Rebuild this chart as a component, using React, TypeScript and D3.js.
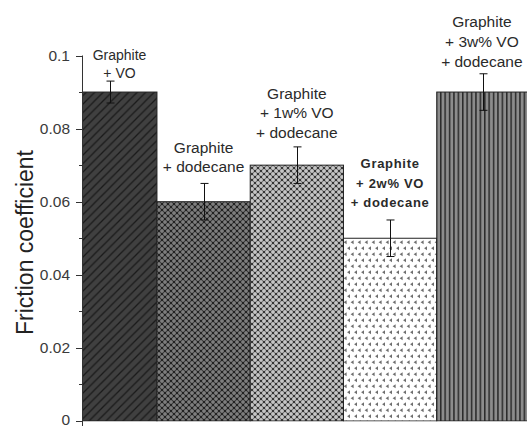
import React from "react";
import * as d3 from "d3";

const categories = ["G+VO", "G+dodecane", "G+1VO+dodecane", "G+2VO+dodecane", "G+3VO+dodecane"];
const values = [0.09, 0.06, 0.07, 0.05, 0.09];
const errors = [0.003, 0.005, 0.005, 0.005, 0.005];
const labelLines = [
  ["Graphite", "+ VO"],
  ["Graphite", "+ dodecane"],
  ["Graphite", "+ 1w% VO", "+ dodecane"],
  ["Graphite", "+ 2w% VO", "+ dodecane"],
  ["Graphite", "+ 3w% VO", "+ dodecane"],
];
const majorTicks = [0, 0.02, 0.04, 0.06, 0.08, 0.1];
const minorTicks = [0.01, 0.03, 0.05, 0.07, 0.09];
const tickLabels = ["0", "0.02", "0.04", "0.06", "0.08", "0.1"];
const yTitle = "Friction coefficient";

// layout / style
const W = 527, H = 427;
const plotLeft = 82, plotBottom = 421;
const patterns = ["pDiag", "pHatchDark", "pHatchLight", "pDots", "pVert"];
const labelGap = [8, 17, 15, 17.5, 12.5];
const labelLH = [18.5, 19.5, 19.5, 19.5, 20];
const labelSize = [14, 15.5, 15.5, 13, 15.5];
const labelBold = [false, false, false, true, false];

export default function App() {
  const y = d3.scaleLinear().domain([0, 0.1]).range([plotBottom, 55.5]);
  const x = d3.scaleBand().domain(categories).range([63.7, 530]).padding(0);
  const bw = x.bandwidth();
  const font = "'Liberation Sans', Arial, sans-serif";

  const dots = (
    <>
      <rect x={-0.8} y={-0.8} width={1.6} height={1.6} fill="#111" />
      <rect x={5.2} y={-0.8} width={1.6} height={1.6} fill="#111" />
      <rect x={-0.8} y={5.2} width={1.6} height={1.6} fill="#111" />
      <rect x={5.2} y={5.2} width={1.6} height={1.6} fill="#111" />
      <rect x={2.2} y={2.2} width={1.6} height={1.6} fill="#111" />
    </>
  );

  return (
    <svg width={W} height={H} style={{ position: "fixed", left: 0, top: 0, background: "#fff" }} fontFamily={font}>
      <defs>
        <clipPath id="plotClip">
          <rect x={plotLeft} y={0} width={W - plotLeft} height={plotBottom + 0.5} />
        </clipPath>
        <pattern id="pDiag" patternUnits="userSpaceOnUse" width={8.5} height={8.5}>
          <rect width={8.5} height={8.5} fill="#404040" />
          <path d="M-2,2 L2,-2 M0,8.5 L8.5,0 M6.5,10.5 L10.5,6.5" stroke="#1a1a1a" strokeWidth={1.3} />
        </pattern>
        <pattern id="pHatchDark" patternUnits="userSpaceOnUse" width={6} height={6}>
          <rect width={6} height={6} fill="#7e7e7e" />
          <path d="M0,0 L6,6 M6,0 L0,6" stroke="#3c3c3c" strokeWidth={1.2} />
          {dots}
        </pattern>
        <pattern id="pHatchLight" patternUnits="userSpaceOnUse" width={6} height={6}>
          <rect width={6} height={6} fill="#c6c6c6" />
          <path d="M0,0 L6,6 M6,0 L0,6" stroke="#747474" strokeWidth={1.2} />
          {dots}
        </pattern>
        <pattern id="pDots" patternUnits="userSpaceOnUse" width={7} height={12}>
          <rect width={7} height={12} fill="#fff" />
          <path d="M0.6,2.2 L3.6,0.2 L3.6,4.2 Z" fill="#6e6e6e" />
          <path d="M4.1,8.2 L7.1,6.2 L7.1,10.2 Z" fill="#6e6e6e" />
        </pattern>
        <pattern id="pVert" patternUnits="userSpaceOnUse" width={4.4} height={10}>
          <rect width={4.4} height={10} fill="#8c8c8c" />
          <rect x={0} width={1.5} height={10} fill="#2a2a2a" />
        </pattern>
      </defs>

      {/* bars */}
      <g clipPath="url(#plotClip)">
        {categories.map((c, i) => (
          <rect
            key={c}
            x={x(c)!}
            y={y(values[i])}
            width={bw}
            height={y(0) - y(values[i])}
            fill={`url(#${patterns[i]})`}
            stroke="#222"
            strokeWidth={1}
          />
        ))}
      </g>

      {/* error bars */}
      {categories.map((c, i) => {
        const cx = Math.round(x(c)! + bw / 2) + 0.5;
        const yt = y(values[i] + errors[i]);
        const yb = y(values[i] - errors[i]);
        return (
          <g key={"e" + c} stroke="#111" strokeWidth={1}>
            <line x1={cx} x2={cx} y1={yt} y2={yb} />
            <line x1={cx - 4} x2={cx + 4} y1={yt} y2={yt} />
            <line x1={cx - 4} x2={cx + 4} y1={yb} y2={yb} />
          </g>
        );
      })}

      {/* labels */}
      {categories.map((c, i) => {
        const x0 = Math.max(x(c)!, plotLeft);
        const x1 = Math.min(x(c)! + bw, W);
        const cx = (x0 + x1) / 2;
        const lines = labelLines[i];
        const lastY = y(values[i] + errors[i]) - labelGap[i];
        return (
          <text
            key={"l" + c}
            x={cx}
            textAnchor="middle"
            fontSize={labelSize[i]}
            fontWeight={labelBold[i] ? "bold" : "normal"}
            letterSpacing={labelBold[i] ? 0.7 : 0}
            fill="#2a2a2a"
            dominantBaseline="central"
          >
            {lines.map((ln, k) => (
              <tspan key={k} x={cx} y={lastY - (lines.length - 1 - k) * labelLH[i]}>
                {ln}
              </tspan>
            ))}
          </text>
        );
      })}

      {/* y axis */}
      <g stroke="#333" strokeWidth={1}>
        <line x1={plotLeft + 0.5} x2={plotLeft + 0.5} y1={y(0.1)} y2={plotBottom + 5} />
        {majorTicks.map((t) => (
          <line key={"M" + t} x1={plotLeft - 6} x2={plotLeft + 0.5} y1={Math.round(y(t)) + 0.5} y2={Math.round(y(t)) + 0.5} />
        ))}
        {minorTicks.map((t) => (
          <line key={"m" + t} x1={plotLeft - 3} x2={plotLeft + 0.5} y1={Math.round(y(t)) + 0.5} y2={Math.round(y(t)) + 0.5} />
        ))}
      </g>
      {majorTicks.map((t, i) => (
        <text key={"t" + t} x={70} y={Math.min(y(t), H - 8)} textAnchor="end" dominantBaseline="central" fontSize={15.5} fill="#3a3a3a">
          {tickLabels[i]}
        </text>
      ))}
      <text
        transform={`translate(33, ${(150 + 335) / 2}) rotate(-90)`}
        textAnchor="middle"
        fontSize={23}
        fill="#222"
      >
        {yTitle}
      </text>
    </svg>
  );
}
